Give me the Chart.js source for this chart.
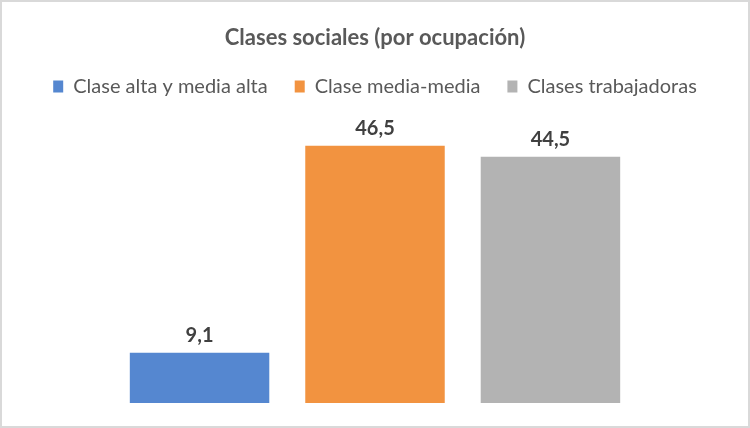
<!DOCTYPE html>
<html>
<head>
<meta charset="utf-8">
<script src="https://cdn.jsdelivr.net/npm/chart.js@4"></script>
<style>
  html, body { margin: 0; padding: 0; background: #fff; }
  #wrap { width: 746px; height: 424px; border: 2px solid #d9d9d9; position: relative; }
  canvas { display: block; }
</style>
</head>
<body>
<div id="wrap"><canvas id="chart" width="746" height="424"></canvas></div>
<script>
const titleText = 'Clases sociales (por ocupación)';
const seriesNames = ['Clase alta y media alta', 'Clase media-media', 'Clases trabajadoras'];
const seriesValues = [9.1, 46.5, 44.5];
const seriesColors = ['#5587d0', '#f29340', '#b3b3b3'];

const fontFam = 'Lato, "Open Sans", sans-serif';

// etiquetas de valor encima de cada barra
const valueLabels = {
    id: 'valueLabels',
    afterDatasetsDraw(chart) {
        const ctx = chart.ctx;
        ctx.save();
        ctx.font = 'bold 20px ' + fontFam;
        ctx.fillStyle = '#404040';
        ctx.textAlign = 'center';
        ctx.textBaseline = 'middle';
        chart.data.datasets.forEach((ds, i) => {
            const bar = chart.getDatasetMeta(i).data[0];
            const txt = ds.data[0].toFixed(1).replace('.', ',');
            ctx.fillText(txt, bar.x, bar.y - 17);
        });
        ctx.restore();
    }
};

new Chart(document.getElementById('chart').getContext('2d'), {
    type: 'bar',
    data: {
        labels: [''],
        datasets: seriesNames.map((name, i) => ({
            label: name,
            data: [seriesValues[i]],
            backgroundColor: seriesColors[i],
            borderWidth: 0,
            barPercentage: 0.795,
            categoryPercentage: 0.723
        }))
    },
    options: {
        responsive: false,
        animation: false,
        layout: { padding: { left: 9, right: 9, bottom: 23, top: 0 } },
        plugins: {
            title: {
                display: true,
                text: titleText,
                color: '#595959',
                font: { family: fontFam, size: 22, weight: 'bold' },
                padding: { top: 23, bottom: -2 }
            },
            legend: {
                display: true,
                labels: {
                    color: '#595959',
                    font: { family: fontFam, size: 20 },
                    boxWidth: 10,
                    boxHeight: 12,
                    padding: 27
                }
            },
            tooltip: { enabled: false }
        },
        scales: {
            x: { display: false },
            y: { display: false, min: 0, max: 53.6 }
        }
    },
    plugins: [valueLabels]
});
</script>
</body>
</html>
